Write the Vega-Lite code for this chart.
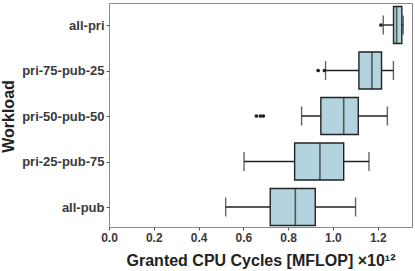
{
  "$schema": "https://vega.github.io/schema/vega-lite/v6.json",
  "width": 303,
  "height": 224,
  "autosize": {"type": "none"},
  "padding": {"left": 109, "top": 3, "right": 3, "bottom": 44},
  "background": "white",
  "config": {
    "font": "Liberation Sans",
    "view": {"stroke": "#8a8a8a", "strokeWidth": 1}
  },
  "datasets": {
    "stats": [
      {"workload": "all-pri", "lower": 1.2246, "q1": 1.2705, "median": 1.2844, "q3": 1.3076, "upper": 1.3138},
      {"workload": "pri-75-pub-25", "lower": 0.967, "q1": 1.116, "median": 1.174, "q3": 1.217, "upper": 1.27},
      {"workload": "pri-50-pub-50", "lower": 0.86, "q1": 0.946, "median": 1.048, "q3": 1.113, "upper": 1.243},
      {"workload": "pri-25-pub-75", "lower": 0.603, "q1": 0.829, "median": 0.942, "q3": 1.048, "upper": 1.161},
      {"workload": "all-pub", "lower": 0.521, "q1": 0.72, "median": 0.832, "q3": 0.921, "upper": 1.101}
    ],
    "outliers": [
      {"workload": "all-pri", "value": 1.2143},
      {"workload": "pri-75-pub-25", "value": 0.934},
      {"workload": "pri-75-pub-25", "value": 0.962},
      {"workload": "pri-50-pub-50", "value": 0.658},
      {"workload": "pri-50-pub-50", "value": 0.676},
      {"workload": "pri-50-pub-50", "value": 0.689}
    ]
  },
  "encoding": {
    "y": {
      "field": "workload",
      "type": "nominal",
      "scale": {"type": "point", "padding": 0, "range": [22, 204], "domain": ["all-pri", "pri-75-pub-25", "pri-50-pub-50", "pri-25-pub-75", "all-pub"]},
      "axis": {
        "title": "Workload",
        "domain": false,
        "tickColor": "#555",
        "tickSize": 3,
        "labelFont": "Liberation Sans",
        "labelFontSize": 13,
        "labelFontWeight": "bold",
        "labelColor": "#3a3a3a",
        "labelPadding": 2,
        "titleFont": "Liberation Sans",
        "titleFontSize": 16,
        "titleFontWeight": "bold",
        "titleColor": "#222",
        "titlePadding": 5
      }
    }
  },
  "layer": [
    {
      "data": {"name": "stats"},
      "mark": {"type": "rule", "color": "#222", "strokeWidth": 1.4},
      "encoding": {
        "x": {
          "field": "lower",
          "type": "quantitative",
          "scale": {"domain": [0, 1.353], "nice": false, "zero": false},
          "axis": {
            "title": "Granted CPU Cycles [MFLOP] ×10¹²",
            "values": [0, 0.2, 0.4, 0.6, 0.8, 1.0, 1.2],
            "format": ".1f",
            "grid": false,
            "domain": false,
            "labelFlush": false,
            "tickColor": "#555",
            "tickSize": 3,
            "labelFont": "Liberation Sans",
            "labelFontSize": 12,
            "labelFontWeight": "bold",
            "labelColor": "#3a3a3a",
            "labelPadding": 2,
            "titleFont": "Liberation Sans",
            "titleFontSize": 16,
            "titleFontWeight": "bold",
            "titleColor": "#222",
            "titlePadding": 9
          }
        },
        "x2": {"field": "upper"}
      }
    },
    {
      "data": {"name": "stats"},
      "mark": {"type": "tick", "color": "#222", "size": 19, "thickness": 1.4},
      "encoding": {"x": {"field": "lower", "type": "quantitative"}}
    },
    {
      "data": {"name": "stats"},
      "mark": {"type": "tick", "color": "#222", "size": 19, "thickness": 1.4},
      "encoding": {"x": {"field": "upper", "type": "quantitative"}}
    },
    {
      "data": {"name": "stats"},
      "mark": {"type": "bar", "size": 37, "fill": "#b3d4df", "stroke": "#222", "strokeWidth": 1.4},
      "encoding": {"x": {"field": "q1", "type": "quantitative"}, "x2": {"field": "q3"}}
    },
    {
      "data": {"name": "stats"},
      "mark": {"type": "tick", "color": "#222", "size": 37, "thickness": 1.6},
      "encoding": {"x": {"field": "median", "type": "quantitative"}}
    },
    {
      "data": {"name": "outliers"},
      "mark": {"type": "point", "filled": true, "color": "#222", "size": 14, "opacity": 1},
      "encoding": {"x": {"field": "value", "type": "quantitative"}}
    }
  ]
}
